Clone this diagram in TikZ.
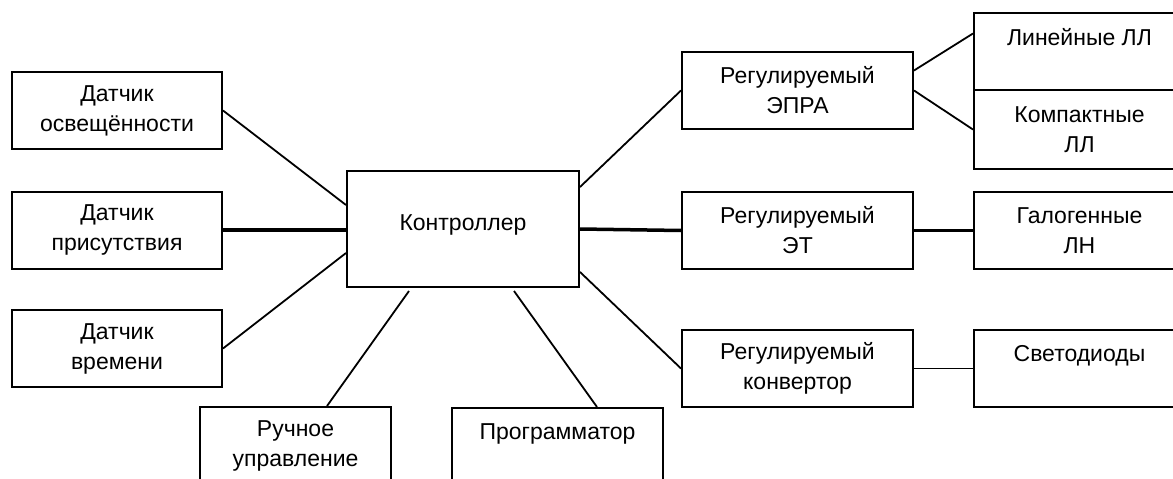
\documentclass[tikz,border=0pt]{standalone}
\usepackage{fontspec}
\setmainfont{Liberation Sans}
\usepackage{tikz}
\usetikzlibrary{positioning, calc}
\newcommand{\blkfont}{\fontsize{23}{30}\selectfont}
\tikzset{
  blk/.style={rectangle, draw, line width=2pt, align=center, inner sep=0pt,
              minimum height=77pt, font=\blkfont},
  link/.style={line width=1.8pt},
  thicklink/.style={line width=3.5pt},
}

\begin{document}
\begin{tikzpicture}[x=1pt, y=-1pt]
  \useasboundingbox (0,0) rectangle (1173,479);
  \clip (0,0) rectangle (1173,479);

  % Center node
  \node[blk, minimum width=232pt, minimum height=116pt, text depth=12pt] (ctrl) at (463,229) {Контроллер};

  % Sensors and inputs
  \node[blk, minimum width=210pt] (osv) at (117,110.5) {Датчик\\освещённости};
  \node[blk, minimum width=210pt] (pri) at (117,230) {Датчик\\присутствия};
  \node[blk, minimum width=210pt] (vrem) at (117,348.5) {Датчик\\времени};
  \node[blk, minimum width=191pt] (ruch) at (295.5,445.5) {Ручное\\управление};
  \node[blk, minimum width=211pt] (prog) at (557.5,446.5) {Программатор\\\mbox{}};

  % Drivers
  \node[blk, minimum width=231pt] (epra) at (797.5,90.5) {Регулируемый\\ЭПРА};
  \node[blk, minimum width=231pt] (et) at (797.5,230.5) {Регулируемый\\ЭТ};
  \node[blk, minimum width=231pt] (conv) at (797.5,368.5) {Регулируемый\\конвертор};

  % Lamps
  \node[blk, minimum width=211pt] (lin) at (1079.5,51.5) {Линейные ЛЛ\\\mbox{}};
  \node[blk, minimum width=211pt, minimum height=79pt] (komp) at (1079.5,129.5) {Компактные\\ЛЛ};
  \node[blk, minimum width=211pt] (gal) at (1079.5,230.5) {Галогенные\\ЛН};
  \node[blk, minimum width=211pt] (svet) at (1079.5,368.5) {Светодиоды\\\mbox{}};

  % Links to controller
  \draw[link] (osv.east) -- ($(ctrl.west)+(0,-24)$);
  \draw[thicklink] (pri.east) -- (pri.east -| ctrl.west);
  \draw[link] (vrem.east) -- ($(ctrl.west)+(0,24)$);
  \draw[link] ($(ruch.north west)+(128,0)$) -- ($(ctrl.south west)+(63,3)$);
  \draw[link] ($(ctrl.south west)+(168,3)$) -- ($(prog.north west)+(146,0)$);
  \draw[link] ($(ctrl.east)+(0,-42)$) -- (epra.west);
  \draw[thicklink] (ctrl.east) -- (et.west);
  \draw[link] ($(ctrl.east)+(0,43)$) -- (conv.west);

  % Links to lamps
  \draw[link] ($(epra.east)+(0,-20)$) -- ($(lin.west)+(0,-18)$);
  \draw[link] (epra.east) -- (komp.west);
  \draw[thicklink] (et.east) -- (gal.west);
  \draw[link] (conv.east) -- (svet.west);

\end{tikzpicture}
\end{document}
